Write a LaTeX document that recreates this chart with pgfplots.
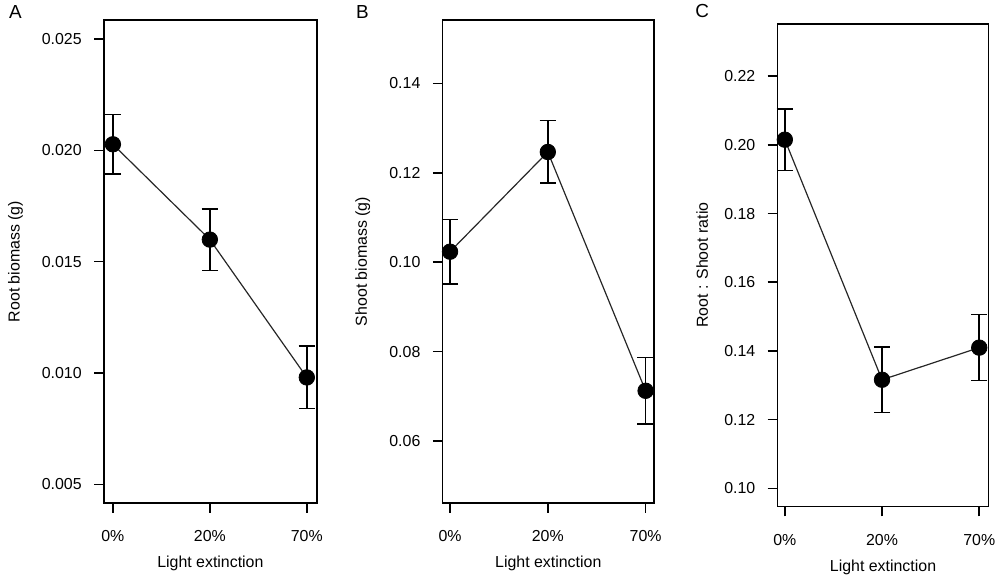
\documentclass[border=0pt]{standalone}
\usepackage{fontspec}
\setmainfont{Liberation Sans}
\usepackage{pgfplots}
\pgfplotsset{compat=1.18}
\begin{document}
\pgfplotsset{
  panel/.style={
    scale only axis,
    anchor=south west,
    xmin=-0.085, xmax=2.095,
    xtick={0,1,2},
    xticklabels={0\%,20\%,70\%},
    tick pos=left,
    tick align=outside,
    major tick length=5pt,
    axis line style={line width=0.8pt},
    every tick/.style={line width=0.75pt, black},
    tick label style={font=\fontsize{8}{9.6}\selectfont},
    label style={font=\fontsize{8}{9.6}\selectfont},
    /pgf/number format/assume math mode=true,
    scaled y ticks=false,
    y tick label style={/pgf/number format/fixed, /pgf/number format/fixed zerofill, xshift=-2.7pt},
    x tick label style={yshift=-5.5pt},
    xlabel={Light extinction},
    xlabel style={at={(axis description cs:0.5,-0.135)}, anchor=base},
    clip=false,
  },
  series/.style={
    black!85, line width=0.6pt,
    mark=*, mark size=3.9pt,
    mark options={fill=black, draw=black, line width=0.4pt},
    error bars/.cd, y dir=both, y explicit,
    error bar style={black, line width=0.8pt},
    error mark options={rotate=90, mark size=4.1pt, line width=0.8pt, black},
  },
}
\begin{tikzpicture}
% Panel A
\begin{axis}[panel,
  at={(49.5pt,37.7pt)}, width=107pt, height=242.6pt,
  xmin=-0.092, xmax=2.103,
  ymin=0.00417, ymax=0.02584,
  ytick={0.005,0.010,0.015,0.020,0.025},
  y tick label style={/pgf/number format/precision=3},
  ylabel={Root biomass (g)},
  ylabel style={at={(axis description cs:-0.416,0.5)}, anchor=center},
]
\addplot[series] coordinates {
  (0,0.02027) +- (0,0.00134)
  (1,0.01599) +- (0,0.00138)
  (2,0.00980) +- (0,0.00140)
};
\end{axis}
% Panel B
\begin{axis}[panel,
  at={(219.8pt,37.7pt)}, width=106.2pt, height=242.6pt,
  xmin=-0.075, xmax=2.085,
  ymin=0.0462, ymax=0.1541,
  ytick={0.06,0.08,0.10,0.12,0.14},
  y tick label style={/pgf/number format/precision=2},
  ylabel={Shoot biomass (g)},
  ylabel style={at={(axis description cs:-0.378,0.5)}, anchor=center},
]
\addplot[series] coordinates {
  (0,0.10235) +- (0,0.0072)
  (1,0.12465) +- (0,0.0070)
  (2,0.07125) +- (0,0.0074)
};
\end{axis}
% Panel C
\begin{axis}[panel,
  at={(388.2pt,35.85pt)}, width=106pt, height=242.6pt,
  xmin=-0.074, xmax=2.095,
  ymin=0.0947, ymax=0.2352,
  ytick={0.10,0.12,0.14,0.16,0.18,0.20,0.22},
  y tick label style={/pgf/number format/precision=2},
  ylabel={Root : Shoot ratio},
  ylabel style={at={(axis description cs:-0.358,0.5)}, anchor=center},
]
\addplot[series] coordinates {
  (0,0.2015) +- (0,0.0090)
  (1,0.1316) +- (0,0.0095)
  (2,0.14095) +- (0,0.0096)
};
\end{axis}
\node[font=\fontsize{9.5}{11}\selectfont] at (5pt,284.5pt) {A};
\node[font=\fontsize{9.5}{11}\selectfont] at (179.4pt,284.5pt) {B};
\node[font=\fontsize{9.5}{11}\selectfont] at (350.25pt,285pt) {C};
\pgfresetboundingbox
\path[use as bounding box] (0,0) rectangle (500pt,290.5pt);
\end{tikzpicture}
\end{document}
